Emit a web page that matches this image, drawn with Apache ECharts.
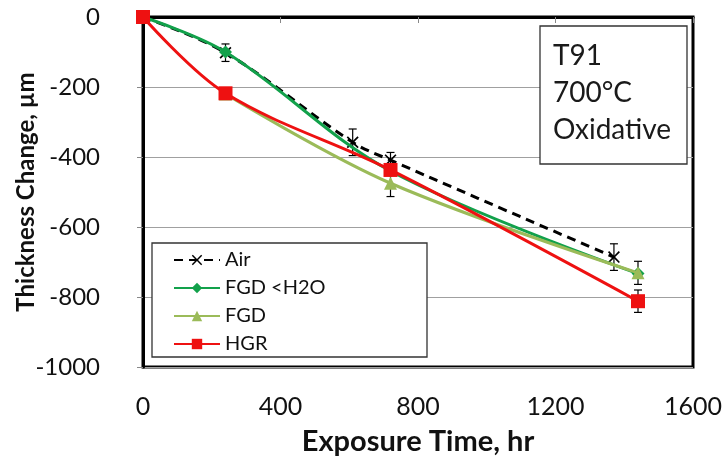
<!DOCTYPE html>
<html>
<head>
<meta charset="utf-8">
<script src="https://cdn.jsdelivr.net/npm/echarts@6/dist/echarts.min.js"></script>
<style>html,body{margin:0;padding:0;background:#fff}#c{width:728px;height:466px}</style>
</head>
<body>
<div id="c"></div>
<script>
// Data
const airX = [0, 240, 610, 720, 1370];
const airY = [0, -102, -358, -409, -686];
const airErr = [0, 25, 38, 22, 38];

const fgdLowX = [0, 240, 720, 1440];
const fgdLowY = [0, -100, -440, -733];
const fgdLowErr = [0, 0, 0, 0];

const fgdX = [240, 720, 1440];
const fgdY = [-220, -475, -731];
const fgdErr = [0, 38, 33];

const hgrX = [0, 240, 720, 1440];
const hgrY = [0, -218, -437, -812];
const hgrErr = [0, 12, 15, 32];

const xTicks = [0, 400, 800, 1200, 1600];
const yTicks = [0, -200, -400, -600, -800, -1000];

const seriesNames = ['Air', 'FGD <H2O', 'FGD', 'HGR'];
const infoLines = ['T91', '700°C', 'Oxidative'];

const FONT = 'Lato, "Open Sans", sans-serif';
const C_AIR = '#000000', C_LOW = '#12A14B', C_FGD = '#9BBB59', C_HGR = '#EE1111';

function pts(xs, ys) { return xs.map((x, i) => [x, ys[i]]); }
function errSeries(xs, ys, es) {
  return {
    type: 'custom', silent: true, z: 3,
    renderItem: function (params, api) {
      const x = api.value(0), y = api.value(1), e = api.value(2);
      if (!e) return null;
      const t = api.coord([x, y + e]), b = api.coord([x, y - e]);
      const w = 4;
      const st = { stroke: '#000', lineWidth: 1.2 };
      return { type: 'group', children: [
        { type: 'line', shape: { x1: t[0], y1: t[1], x2: b[0], y2: b[1] }, style: st },
        { type: 'line', shape: { x1: t[0] - w, y1: t[1], x2: t[0] + w, y2: t[1] }, style: st },
        { type: 'line', shape: { x1: b[0] - w, y1: b[1], x2: b[0] + w, y2: b[1] }, style: st }
      ]};
    },
    data: xs.map((x, i) => [x, ys[i], es[i]])
  };
}
const crossPath = 'path://M0,1 L1,0 L5,4 L9,0 L10,1 L6,5 L10,9 L9,10 L5,6 L1,10 L0,9 L4,5 Z';
const plainNum = v => String(v);

const chart = echarts.init(document.getElementById('c'));
chart.setOption({
  animation: false,
  textStyle: { fontFamily: FONT },
  grid: { left: 143, right: 35, top: 17, bottom: 99, containLabel: false, outerBoundsMode: 'none',
          show: true, borderColor: '#000', borderWidth: 3, backgroundColor: 'transparent' },
  xAxis: {
    type: 'value', min: xTicks[0], max: xTicks[xTicks.length - 1], interval: 400,
    axisLine: { show: true, lineStyle: { color: '#000', width: 3 } },
    axisTick: { show: true, inside: false, length: 6, lineStyle: { color: '#888', width: 1 } },
    splitLine: { show: false },
    axisLabel: { fontSize: 25, color: '#111', margin: 27, fontFamily: FONT, formatter: plainNum },
    name: 'Exposure Time, hr', nameLocation: 'middle', nameGap: 60, nameMoveOverlap: false,
    nameTextStyle: { fontSize: 29, fontWeight: 'bold', color: '#111', fontFamily: FONT }
  },
  yAxis: {
    type: 'value', min: yTicks[yTicks.length - 1], max: yTicks[0], interval: 200,
    axisLine: { show: true, lineStyle: { color: '#000', width: 3 } },
    axisTick: { show: true, inside: false, length: 6, lineStyle: { color: '#888', width: 1 } },
    splitLine: { show: true, lineStyle: { color: '#A0A0A0', width: 1 } },
    axisLabel: { fontSize: 24, color: '#111', margin: 43, fontFamily: FONT, formatter: plainNum },
    name: 'Thickness Change, µm', nameLocation: 'middle', nameGap: 105, nameMoveOverlap: false,
    nameTextStyle: { fontSize: 24, fontWeight: 'bold', color: '#111', fontFamily: FONT }
  },
  legend: {
    data: seriesNames, orient: 'vertical', left: 168, top: 245, z: 20,
    itemWidth: 46, itemHeight: 13, itemGap: 8,
    textStyle: { fontSize: 20, color: '#111', lineHeight: 20, fontFamily: FONT }
  },
  graphic: [
    { type: 'rect', z: 10, shape: { x: 152, y: 243, width: 275, height: 114 }, style: { fill: '#fff', stroke: '#333', lineWidth: 1.3 } },
    { type: 'rect', z: 10, shape: { x: 540, y: 26, width: 147, height: 138 }, style: { fill: '#fff', stroke: '#333', lineWidth: 1.3 } },
    { type: 'text', z: 11, left: 553, top: 37, style: { text: infoLines.join('\n'), fontSize: 28, lineHeight: 37, fill: '#1a1a1a', fontFamily: FONT } }
  ],
  series: [
    errSeries(airX, airY, airErr),
    errSeries(fgdX, fgdY, fgdErr),
    errSeries(hgrX, hgrY, hgrErr),
    { name: 'Air', type: 'line', z: 4, data: pts(airX, airY), smooth: 0.35,
      symbol: crossPath, symbolSize: 12,
      lineStyle: { color: C_AIR, width: 3, type: [9, 6] }, itemStyle: { color: C_AIR } },
    { name: 'FGD <H2O', type: 'line', z: 5, data: pts(fgdLowX, fgdLowY), smooth: 0.35,
      symbol: 'diamond', symbolSize: 13,
      lineStyle: { color: C_LOW, width: 3 }, itemStyle: { color: C_LOW } },
    { name: 'FGD', type: 'line', z: 6, data: pts(fgdX, fgdY), smooth: 0.35,
      symbol: 'triangle', symbolSize: 13,
      lineStyle: { color: C_FGD, width: 3 }, itemStyle: { color: C_FGD } },
    { name: 'HGR', type: 'line', z: 7, data: pts(hgrX, hgrY), smooth: 0.35,
      symbol: 'rect', symbolSize: 14,
      lineStyle: { color: C_HGR, width: 3 }, itemStyle: { color: C_HGR } }
  ]
});
</script>
</body>
</html>
